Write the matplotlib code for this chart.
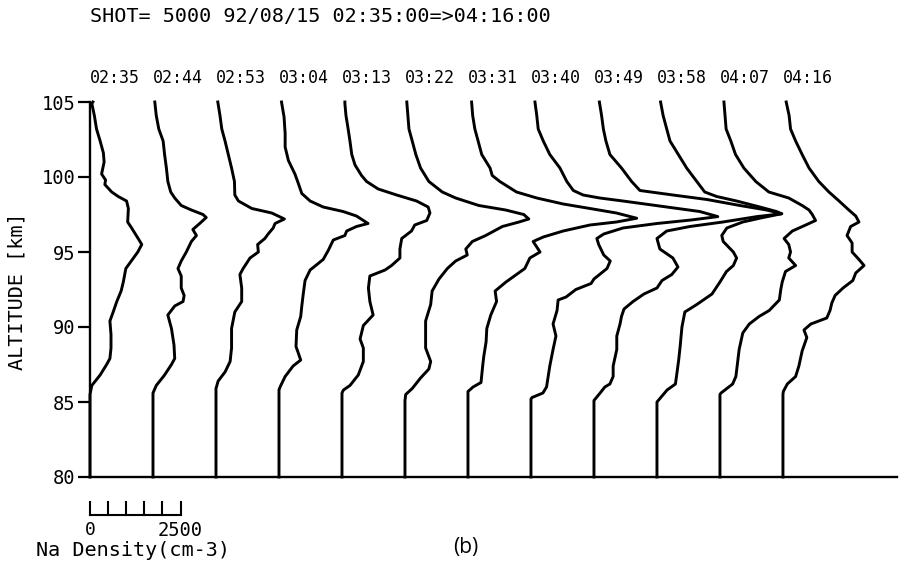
import matplotlib
matplotlib.use("Agg")
import matplotlib.pyplot as plt

# Na density profiles (cm-3) vs altitude (km), shot 5000, 92/08/15
times = ["02:35", "02:44", "02:53", "03:04", "03:13", "03:22",
         "03:31", "03:40", "03:49", "03:58", "04:07", "04:16"]

alt_0235 = [105.0, 104.9, 104.1, 103.2, 102.4, 101.6, 101.0, 100.2, 99.8, 99.5, 99.0, 98.7, 98.4, 97.9,
            97.0, 96.6, 95.9, 95.5, 95.0, 94.6, 93.9, 93.0, 92.4, 91.7, 91.0, 90.4, 89.5, 88.6, 87.9,
            87.5, 86.8, 86.1, 85.5, 80.0]
na_0235 = [80, 50, 120, 180, 280, 370, 390, 320, 430, 410, 600, 780, 1010, 1060,
           1040, 1150, 1330, 1430, 1320, 1200, 990, 920, 860, 740, 640, 550, 580, 580, 550,
           460, 280, 50, 0, 0]

alt_0244 = [105.0, 104.1, 103.2, 102.4, 101.5, 100.6, 99.7, 99.0, 98.6, 98.1, 97.8, 97.5, 97.3, 96.9,
            96.5, 96.1, 95.7, 95.0, 94.4, 93.9, 93.4, 92.6, 92.1, 91.7, 91.4, 90.8, 89.9, 88.8, 87.9,
            87.5, 86.8, 86.1, 85.6, 80.0]
na_0244 = [50, 90, 160, 280, 320, 370, 410, 490, 600, 780, 1060, 1380, 1470, 1290,
           1100, 1200, 1060, 920, 780, 690, 780, 780, 860, 830, 600, 410, 510, 580, 600,
           510, 320, 90, 0, 0]

alt_0253 = [105.0, 104.1, 103.2, 102.4, 101.5, 100.6, 99.7, 98.8, 98.4, 97.9, 97.6, 97.2, 96.9, 96.6,
            96.2, 95.9, 95.5, 95.0, 94.6, 93.9, 93.5, 92.6, 91.7, 91.0, 89.9, 88.6, 87.7, 87.0,
            86.4, 85.9, 80.0]
na_0253 = [50, 110, 160, 250, 340, 430, 510, 520, 620, 990, 1540, 1890, 1630, 1580,
           1440, 1350, 1150, 1170, 940, 750, 660, 710, 710, 520, 430, 430, 390, 250,
           60, 0, 0]

alt_0304 = [105.0, 104.0, 102.9, 102.0, 101.1, 100.2, 99.6, 98.9, 98.4, 98.0, 97.7, 97.4, 96.9, 96.7,
            96.4, 96.1, 95.8, 95.1, 94.5, 93.8, 93.1, 92.2, 91.4, 90.7, 89.8, 88.7, 87.8, 87.4,
            86.7, 86.0, 85.8, 80.0]
na_0304 = [70, 140, 170, 170, 260, 440, 530, 630, 860, 1220, 1770, 2140, 2460, 2140,
           1870, 1820, 1500, 1360, 1220, 860, 720, 670, 630, 600, 490, 470, 600, 390,
           170, 30, 0, 0]

alt_0313 = [105.0, 104.9, 104.1, 103.2, 102.4, 101.5, 100.8, 100.1, 99.7, 99.2, 98.8, 98.4, 98.0, 97.6,
            97.1, 96.8, 96.4, 95.9, 95.2, 94.6, 94.1, 93.8, 93.4, 92.6, 91.7, 90.8, 90.1, 89.2,
            88.6, 87.7, 86.8, 86.1, 85.8, 85.6, 80.0]
na_0313 = [80, 80, 110, 170, 220, 270, 360, 540, 680, 1000, 1510, 2060, 2380, 2430,
           2340, 2010, 1920, 1650, 1600, 1600, 1370, 1190, 770, 730, 770, 860, 590, 500,
           590, 590, 450, 220, 40, 0, 0]

alt_0322 = [105.0, 104.1, 103.2, 102.4, 101.5, 100.6, 99.7, 99.0, 98.6, 98.1, 97.8, 97.5, 97.2, 97.0,
            96.7, 96.1, 95.7, 95.2, 94.8, 94.4, 93.9, 93.2, 92.4, 91.5, 90.4, 89.5, 88.6, 87.7,
            87.2, 86.6, 85.9, 85.5, 85.1, 80.0]
na_0322 = [50, 80, 110, 200, 300, 430, 660, 1030, 1400, 2040, 2780, 3280, 3420, 3150,
           2690, 2230, 1860, 1680, 1720, 1400, 1170, 940, 750, 710, 570, 570, 570, 710,
           660, 430, 200, 20, 0, 0]

alt_0331 = [105.0, 104.1, 103.2, 102.4, 101.5, 100.6, 100.1, 99.7, 99.0, 98.6, 98.2, 97.9, 97.6, 97.25,
            97.0, 96.8, 96.4, 96.0, 95.7, 95.0, 94.6, 93.9, 93.0, 92.4, 91.7, 90.8, 89.9, 89.0,
            88.1, 87.5, 86.3, 86.0, 85.7, 80.0]
na_0331 = [100, 130, 190, 280, 380, 610, 670, 880, 1340, 1900, 2630, 3370, 4100, 4660,
           4100, 3370, 2630, 2080, 1800, 1990, 1710, 1570, 1050, 750, 790, 630, 520, 500,
           440, 410, 360, 140, 0, 0]

alt_0340 = [105.0, 104.1, 103.2, 102.4, 101.5, 100.6, 99.7, 99.1, 98.8, 98.6, 98.4, 98.0, 97.7, 97.36,
            97.13, 96.9, 96.6, 96.2, 95.9, 95.5, 94.8, 94.4, 93.9, 93.2, 92.9, 92.5, 92.0, 91.8,
            91.1, 90.2, 89.4, 88.5, 87.4, 86.0, 85.6, 85.3, 85.2, 80.0]
na_0340 = [110, 160, 200, 340, 520, 800, 990, 1170, 1440, 1900, 2540, 3750, 4660, 5160,
           4410, 3480, 2540, 2010, 1820, 1870, 2010, 2190, 2100, 1740, 1660, 1240, 970, 750,
           720, 610, 690, 610, 520, 430, 330, 30, 0, 0]

alt_0349 = [105.0, 104.1, 103.2, 102.4, 101.5, 100.6, 99.7, 99.1, 98.8, 98.5, 98.1, 97.8, 97.55, 97.36,
            97.0, 96.7, 96.4, 95.9, 95.2, 94.6, 94.0, 93.5, 93.1, 92.6, 92.2, 91.7, 91.2, 90.7,
            90.2, 89.4, 88.5, 87.4, 86.7, 86.2, 86.0, 85.6, 85.1, 80.0]
na_0349 = [150, 210, 260, 330, 440, 760, 1040, 1270, 2180, 3120, 4030, 4770, 5190, 4500,
           3560, 2650, 2010, 1740, 1820, 2180, 2320, 2150, 1880, 1740, 1380, 1080, 830, 760,
           720, 630, 630, 530, 530, 440, 300, 170, 0, 0]

alt_0358 = [105.0, 104.1, 103.2, 102.4, 101.5, 100.6, 99.7, 99.0, 98.7, 98.4, 98.0, 97.7, 97.55, 97.3,
            97.0, 96.6, 96.1, 95.7, 95.0, 94.6, 94.1, 93.7, 93.0, 92.2, 91.5, 91.0, 90.0, 88.7,
            87.8, 86.9, 86.2, 85.8, 85.0, 80.0]
na_0358 = [100, 170, 270, 360, 590, 820, 1100, 1320, 1650, 2200, 2840, 3300, 3440, 2930,
           2370, 1930, 1790, 1830, 2110, 2200, 2110, 1920, 1740, 1520, 1100, 770, 690, 640,
           600, 550, 510, 280, 0, 0]

alt_0407 = [105.0, 104.1, 103.2, 102.4, 101.5, 100.6, 99.7, 99.0, 98.6, 98.1, 97.8, 97.5, 97.1, 96.8,
            96.4, 95.9, 95.5, 95.0, 94.6, 94.1, 93.7, 93.0, 92.5, 91.8, 91.1, 90.7, 90.2, 89.6,
            88.5, 86.7, 86.2, 85.6, 85.5, 80.0]
na_0407 = [110, 140, 170, 300, 430, 660, 990, 1350, 1900, 2270, 2460, 2550, 2640, 2370,
           2000, 1770, 1900, 1950, 1900, 2090, 1810, 1720, 1680, 1640, 1360, 1080, 810, 630,
           530, 440, 350, 30, 0, 0]

alt_0416 = [105.0, 104.1, 103.2, 102.4, 101.5, 100.6, 99.7, 99.0, 98.4, 97.8, 97.4, 97.0, 96.7, 96.1,
            95.6, 95.0, 94.5, 94.1, 93.6, 93.1, 92.6, 92.1, 91.6, 91.1, 90.6, 90.2, 89.8, 89.3,
            88.4, 87.4, 86.7, 86.2, 85.7, 85.5, 80.0]
na_0416 = [90, 170, 210, 350, 530, 720, 990, 1270, 1550, 1820, 2010, 2100, 1870, 1770,
           1910, 1910, 2100, 2240, 2010, 1930, 1660, 1440, 1350, 1300, 1210, 770, 580, 660,
           530, 440, 350, 120, 10, 0, 0]

alts = [alt_0235, alt_0244, alt_0253, alt_0304, alt_0313, alt_0322,
        alt_0331, alt_0340, alt_0349, alt_0358, alt_0407, alt_0416]
dens = [na_0235, na_0244, na_0253, na_0304, na_0313, na_0322,
        na_0331, na_0340, na_0349, na_0358, na_0407, na_0416]

offset = 1740          # horizontal shift between profiles (cm-3)
scale_ticks = [0, 500, 1000, 1500, 2000, 2500]

plt.rcParams['font.family'] = ['DejaVu Sans Mono']

W, H = 899, 562
fig = plt.figure(figsize=(W / 100, H / 100), dpi=100)
ax = fig.add_axes([90 / W, 1 - 477 / H, 807 / W, 375 / H])

for i in range(len(times)):
    xs = [offset * i + v for v in dens[i]]
    ax.plot(xs, alts[i], color='black', lw=2.1, clip_on=False, solid_joinstyle='round')
    ax.text(offset * i, 106.6, times[i], ha='left', va='center', fontsize=12)

ax.set_xlim(0, 22290)
ax.set_ylim(80, 105)
ax.spines['top'].set_visible(False)
ax.spines['right'].set_visible(False)
for s in ['left', 'bottom']:
    ax.spines[s].set_linewidth(1.7)
ax.set_xticks([])
ax.set_yticks([80, 85, 90, 95, 100, 105])
ax.tick_params(axis='y', direction='out', length=9, width=1.6, pad=1.5, labelsize=13.5)

# density scale bar
ax.plot([scale_ticks[0], scale_ticks[-1]], [77.47, 77.47], color='black', lw=1.5, clip_on=False)
for t in scale_ticks:
    ax.plot([t, t], [77.47, 78.33], color='black', lw=1.5, clip_on=False)
ax.text(0, 76.45, "0", ha='center', va='center', fontsize=13)
ax.text(2500, 76.45, "2500", ha='center', va='center', fontsize=13.5)

fig.text(133 / W, 1 - 550 / H, "Na Density(cm-3)", ha='center', va='center', fontsize=14.5)
fig.text(17 / W, 1 - 291 / H, "ALTITUDE [km]", rotation=90, ha='center', va='center', fontsize=14.5)
fig.text(90 / W, 1 - 17 / H, "SHOT= 5000 92/08/15 02:35:00=>04:16:00",
         ha='left', va='center', fontsize=14.5)
fig.text(466 / W, 1 - 547 / H, "(b)", ha='center', va='center', fontsize=15, family='Open Sans')

fig.savefig("out.png", dpi=100)
